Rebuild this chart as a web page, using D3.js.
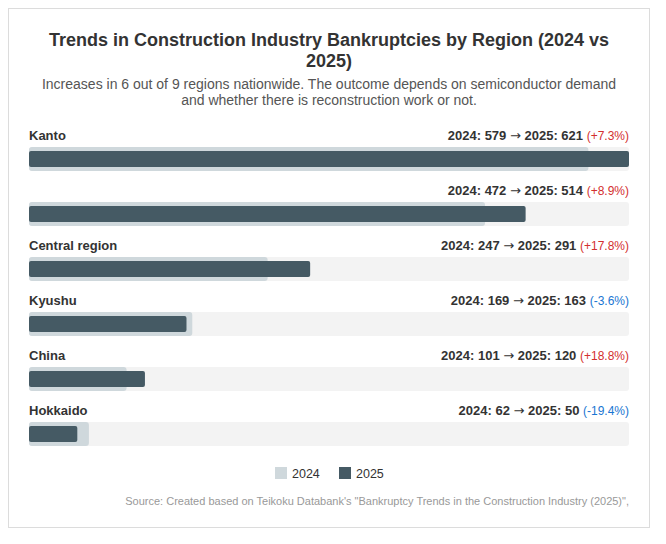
<!DOCTYPE html>
<html>
<head>
<meta charset="utf-8">
<script src="https://cdn.jsdelivr.net/npm/d3@7"></script>
<style>
  body { margin: 0; background: #fff; font-family: "Liberation Sans", Arial, sans-serif; }
</style>
</head>
<body>
<div id="chart"></div>
<script>
let regions = ["Kanto", "", "Central region", "Kyushu", "China", "Hokkaido"]
let values2024 = [579, 472, 247, 169, 101, 62]
let values2025 = [621, 514, 291, 163, 120, 50]
let years = ["2024", "2025"]

let titleLines = ["Trends in Construction Industry Bankruptcies by Region (2024 vs", "2025)"]
let subtitleLines = ["Increases in 6 out of 9 regions nationwide. The outcome depends on semiconductor demand",
                     "and whether there is reconstruction work or not."]
let source = "Source: Created based on Teikoku Databank's \"Bankruptcy Trends in the Construction Industry (2025)\","

let width = 666
let height = 544
let colors = { "2024": "#cfd8dc", "2025": "#455a64", track: "#f3f3f3" }

let svg = d3.select("#chart")
            .append("svg")
            .attr("width", width)
            .attr("height", height)

// card
svg.append("rect")
    .attr("x", 8.5).attr("y", 8.5)
    .attr("width", 641).attr("height", 519)
    .attr("fill", "#fff")
    .attr("stroke", "#dcdcdc")

// title + subtitle
svg.selectAll(".title")
    .data(titleLines)
    .enter().append("text")
    .attr("x", 329)
    .attr("y", (d, i) => 46 + i * 21)
    .attr("text-anchor", "middle")
    .attr("font-size", 18)
    .attr("font-weight", "bold")
    .attr("fill", "#333")
    .text(d => d)

svg.selectAll(".subtitle")
    .data(subtitleLines)
    .enter().append("text")
    .attr("x", 329)
    .attr("y", (d, i) => 89 + i * 16)
    .attr("text-anchor", "middle")
    .attr("font-size", 14)
    .attr("fill", "#555")
    .text(d => d)

let left = 29, right = 629

let xScale = d3.scaleLinear()
                .domain([0, d3.max(values2025.concat(values2024))])
                .range([left, right])

let yScale = d3.scaleBand()
                .domain(d3.range(regions.length))
                .range([125, 455])

let rows = svg.selectAll(".row")
            .data(regions.map((r, i) => ({ region: r, v24: values2024[i], v25: values2025[i] })))
            .enter().append("g")
            .attr("transform", (d, i) => `translate(0,${yScale(i)})`)

rows.append("text")
    .attr("x", left)
    .attr("y", 15)
    .attr("font-size", 13)
    .attr("font-weight", "bold")
    .attr("fill", "#333")
    .text(d => d.region)

let label = rows.append("text")
    .attr("x", right)
    .attr("y", 15)
    .attr("text-anchor", "end")
    .attr("font-size", 13)
    .attr("font-weight", "bold")
    .attr("fill", "#333")

label.append("tspan")
    .text(d => `2024: ${d.v24} `)

label.append("tspan")
    .attr("font-family", "DejaVu Sans")
    .attr("font-weight", "normal")
    .text("→")

label.append("tspan")
    .text(d => ` 2025: ${d.v25} `)

label.append("tspan")
    .attr("font-weight", "normal")
    .attr("fill", d => d.v25 >= d.v24 ? "#d32f2f" : "#1976d2")
    .attr("font-size", 12)
    .text(d => {
        let p = (d.v25 - d.v24) / d.v24 * 100
        return `(${p >= 0 ? "+" : ""}${p.toFixed(1)}%)`
    })

rows.append("rect")
    .attr("x", left).attr("y", 22)
    .attr("width", right - left).attr("height", 24)
    .attr("rx", 3)
    .attr("fill", colors.track)

rows.append("rect")
    .attr("x", left).attr("y", 22)
    .attr("width", d => xScale(d.v24) - left).attr("height", 24)
    .attr("rx", 3)
    .attr("fill", colors["2024"])

rows.append("rect")
    .attr("x", left).attr("y", 26)
    .attr("width", d => xScale(d.v25) - left).attr("height", 16)
    .attr("rx", 2)
    .attr("fill", colors["2025"])

// legend
let legend = svg.selectAll(".legend")
    .data(years)
    .enter().append("g")
    .attr("transform", (d, i) => `translate(${275 + i * 64},467)`)

legend.append("rect")
    .attr("width", 12).attr("height", 12)
    .attr("fill", d => colors[d])

legend.append("text")
    .attr("x", 17).attr("y", 10.5)
    .attr("font-size", 12.5)
    .attr("fill", "#333")
    .text(d => d)

svg.append("text")
    .attr("x", right)
    .attr("y", 505)
    .attr("text-anchor", "end")
    .attr("font-size", 11)
    .attr("fill", "#999")
    .text(source)
</script>
</body>
</html>
